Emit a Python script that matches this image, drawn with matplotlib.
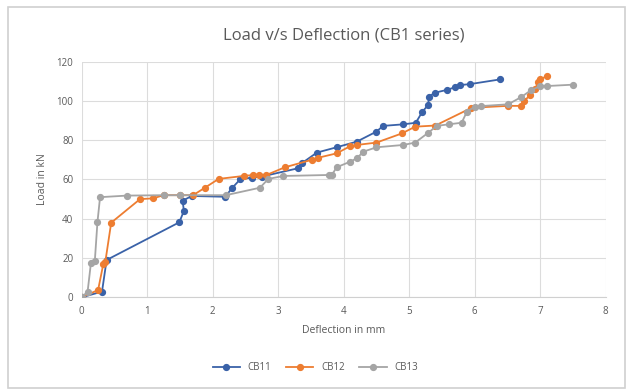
import matplotlib.pyplot as plt
from matplotlib.patches import Rectangle

# Deflection (mm) / load (kN)
cb11_x = [0, 0.31, 0.38, 1.49, 1.56, 1.54, 1.68, 2.19, 2.3, 2.42, 2.6, 2.75, 3.3, 3.36,
          3.59, 3.89, 4.2, 4.5, 4.6, 4.91, 5.1, 5.2, 5.29, 5.3, 5.39, 5.57, 5.7, 5.78,
          5.93, 6.39]
cb11_y = [0, 2.9, 19, 38.2, 44, 49.2, 51.6, 51.2, 55.8, 60.1, 61, 61.5, 65.7, 68.3,
          73.7, 76.4, 79.3, 84.4, 87.3, 88.1, 88.9, 94.5, 98, 102.2, 104.2, 105.6, 107,
          108.1, 108.6, 111]

cb12_x = [0, 0.25, 0.33, 0.36, 0.45, 0.89, 1.09, 1.25, 1.5, 1.7, 1.88, 2.09, 2.47,
          2.62, 2.7, 2.82, 3.1, 3.51, 3.6, 3.89, 4.1, 4.2, 4.5, 4.89, 5.09, 5.4, 5.95,
          6.5, 6.71, 6.75, 6.85, 6.92, 6.97, 7.0, 7.1]
cb12_y = [0, 3.7, 17, 18, 38, 50, 50.4, 52, 52, 52, 55.8, 60.3, 61.8, 62.3, 62.5,
          62.3, 66.2, 70, 71, 73.3, 77, 77.6, 78.8, 83.5, 86.9, 87.5, 96.5, 97.5, 97.5,
          100, 103, 106, 109.8, 111, 112.7]

cb13_x = [0, 0.09, 0.14, 0.2, 0.24, 0.28, 0.69, 1.25, 1.5, 2.2, 2.72, 2.85, 3.08,
          3.77, 3.82, 3.89, 4.1, 4.2, 4.3, 4.5, 4.91, 5.09, 5.29, 5.42, 5.6, 5.8, 5.88,
          6.0, 6.1, 6.51, 6.71, 6.86, 7.0, 7.1, 7.5]
cb13_y = [0, 2.9, 17.3, 18.5, 38.2, 51, 51.8, 52, 52, 52, 55.8, 60.3, 61.8, 62.3,
          62.3, 66.2, 69.1, 70.8, 74.2, 76.4, 77.6, 78.8, 83.8, 87.3, 88.1, 88.9, 94.5,
          97.1, 97.4, 98.3, 102, 105.5, 107.6, 107.6, 108.3]

plt.rcParams['font.family'] = ['Open Sans', 'DejaVu Sans']
text_col = '#595959'

fig = plt.figure(figsize=(6.31, 3.92), dpi=100)
fig.patch.set_facecolor('white')
fig.patches.append(Rectangle((8 / 631, 4 / 392), 617 / 631, 381 / 392,
                             transform=fig.transFigure, fill=False,
                             edgecolor='#D0D0D0', linewidth=1.2))

ax = fig.add_axes([0.1295, 0.2416, 0.8305, 0.601])

style = dict(marker='o', markersize=4.2, linewidth=1.3)
ax.plot(cb11_x, cb11_y, color='#3A62A8', label='CB11', **style, zorder=3)
ax.plot(cb12_x, cb12_y, color='#ED7D31', label='CB12', **style, zorder=3)
ax.plot(cb13_x, cb13_y, color='#A5A5A5', label='CB13', **style, zorder=3)

ax.set_xlim(0, 8)
ax.set_ylim(0, 120)
ax.set_xticks(range(0, 9))
ax.set_yticks(range(0, 121, 20))
ax.grid(True, color='#DCDCDC', linewidth=0.8)
ax.set_axisbelow(True)
for s in ['top', 'right', 'left']:
    ax.spines[s].set_visible(False)
ax.spines['bottom'].set_color('#D0D0D0')
ax.tick_params(length=0, labelsize=7, colors=text_col, pad=6)

ax.set_title('Load v/s Deflection (CB1 series)', fontsize=12, color=text_col, pad=16)
ax.set_xlabel('Deflection in mm', fontsize=7.5, color=text_col, labelpad=6)
ax.set_ylabel('Load in kN', fontsize=7.5, color=text_col, labelpad=6)

fig.legend(loc='center', bbox_to_anchor=(0.5, 0.062), ncol=3, frameon=False,
           fontsize=7, labelcolor=text_col, handlelength=2.8, columnspacing=1.5)

fig.savefig('out.png', dpi=100)
